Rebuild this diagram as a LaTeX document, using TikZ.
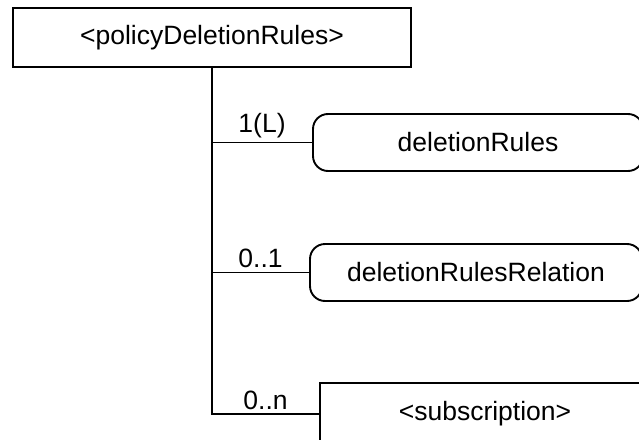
\documentclass[tikz,border=0pt]{standalone}
\usepackage{fontspec}
\setmainfont{Liberation Sans}
\usetikzlibrary{positioning}

\begin{document}
\begin{tikzpicture}[x=1pt, y=-1pt, line width=1.9pt, font=\fontsize{26.5}{31}\selectfont]
  \useasboundingbox (0,0) rectangle (639,439);
  \clip (0,0) rectangle (639,439);
  \node (root) [draw, minimum width=398pt, minimum height=59pt, inner sep=0pt] at (212,37.5) {<policyDeletionRules>};
  \node (rules) [draw, rounded corners=15pt, minimum width=330pt, minimum height=57pt, inner sep=0pt] at (478,142.5) {deletionRules};
  \node (relation) [draw, rounded corners=15pt, minimum width=332pt, minimum height=57pt, inner sep=0pt] at (476,272.5) {deletionRulesRelation};
  \node (subscr) [draw, minimum width=330pt, minimum height=62pt, inner sep=0pt] at (485,414) {<subscription>};
  \draw (root.south) |- (subscr.west) node[pos=0.75, above] {0..n};
  \draw (root.south |- rules.west) -- (rules.west) node[midway, above] {1(L)};
  \draw (root.south |- relation.west) -- (relation.west) node[midway, above] {0..1};
\end{tikzpicture}
\end{document}
